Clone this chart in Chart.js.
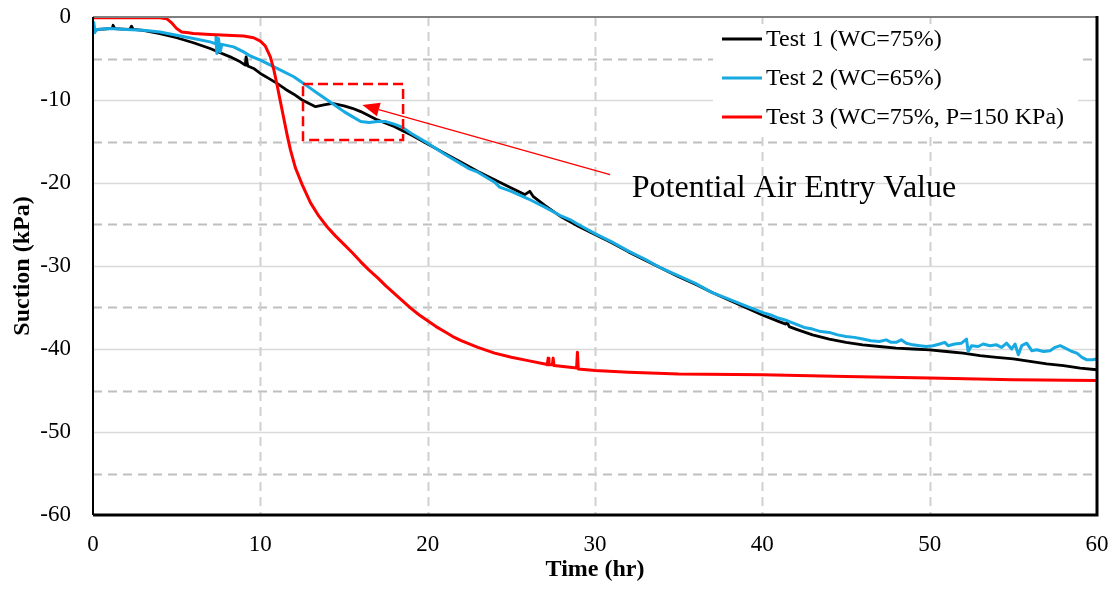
<!DOCTYPE html>
<html>
<head>
<meta charset="utf-8">
<script src="https://cdn.jsdelivr.net/npm/chart.js@4.4.1/dist/chart.umd.min.js"></script>
<style>
html,body{margin:0;padding:0;background:#fff;}
#wrap{width:1114px;height:593px;}
</style>
</head>
<body>
<div id="wrap"><canvas id="c" width="1114" height="593"></canvas></div>
<script>
// ---- Data ----
const seriesNames = ["Test 1 (WC=75%)", "Test 2 (WC=65%)", "Test 3 (WC=75%, P=150 KPa)"];
const xTicks = [0, 10, 20, 30, 40, 50, 60];
const yTicks = [-60, -50, -40, -30, -20, -10, 0];

const test1Time = [0,0.05,0.3,0.6,1.0,1.15,1.2,1.3,1.8,2.2,2.3,2.4,3.0,4.0,5.0,6.0,7.0,7.6,8.2,8.8,9.1,9.15,9.25,9.6,10.0,10.5,11.0,11.5,12.0,12.5,13.0,13.3,13.8,14.3,15.0,15.5,16.0,17.0,18.0,18.5,19.0,20.0,21.0,22.0,23.0,24.0,25.0,25.8,26.1,26.3,27.0,28.0,29.0,30.0,31.0,32.0,33.0,34.0,35.0,36.0,37.0,38.0,39.0,40.0,41.0,41.4,41.5,41.6,42.0,43.0,44.0,45.0,46.0,47.0,48.0,49.0,50.0,51.0,52.0,53.0,54.0,55.0,56.0,57.0,58.0,59.0,60.0];
const test1Suction = [-1.0,-1.7,-1.5,-1.45,-1.4,-1.4,-1.0,-1.4,-1.45,-1.5,-1.1,-1.5,-1.6,-2.0,-2.5,-3.1,-3.8,-4.3,-4.8,-5.4,-5.8,-4.8,-5.9,-6.2,-6.8,-7.4,-8.0,-8.7,-9.3,-10.0,-10.5,-10.8,-10.6,-10.4,-10.7,-11.0,-11.4,-12.4,-13.2,-13.7,-14.2,-15.3,-16.4,-17.5,-18.6,-19.6,-20.6,-21.4,-21.0,-21.6,-22.7,-24.1,-25.2,-26.2,-27.2,-28.3,-29.3,-30.3,-31.3,-32.2,-33.2,-34.1,-35.0,-35.9,-36.7,-37.0,-36.8,-37.3,-37.6,-38.3,-38.8,-39.2,-39.5,-39.7,-39.9,-40.0,-40.1,-40.3,-40.5,-40.8,-41.0,-41.2,-41.5,-41.8,-42.0,-42.3,-42.5];

const test2Time = [0,0.05,0.1,0.2,1.0,2.0,3.0,4.0,5.0,6.0,7.0,7.3,7.35,7.4,7.5,7.6,7.7,8.4,9.0,9.4,10.0,11.0,12.0,12.5,13.0,13.5,14.0,14.5,15.0,15.5,16.0,16.5,17.0,17.5,18.0,18.5,19.0,20.0,21.0,22.0,22.5,23.0,24.0,24.3,25.0,26.0,27.0,28.0,28.5,29.0,30.0,31.0,32.0,33.0,34.0,35.0,36.0,37.0,38.0,39.0,40.0,40.5,41.0,41.5,42.0,42.5,43.0,43.5,44.0,44.5,45.0,45.5,46.0,46.5,47.0,47.4,47.7,48.0,48.3,48.6,49.0,49.4,49.8,50.2,50.6,50.9,51.1,51.5,51.9,52.2,52.3,52.5,52.9,53.2,53.6,54.0,54.3,54.6,54.9,55.1,55.3,55.5,55.8,56.1,56.4,56.8,57.2,57.5,57.8,58.1,58.5,58.8,59.1,59.4,59.7,60.0];
const test2Suction = [-1.8,-0.7,-1.9,-1.5,-1.4,-1.5,-1.6,-1.8,-2.2,-2.6,-3.0,-3.2,-2.4,-4.4,-2.6,-4.2,-3.3,-3.6,-4.2,-4.7,-5.2,-6.2,-7.2,-7.9,-8.6,-9.3,-10.0,-10.7,-11.4,-12.0,-12.6,-12.7,-12.6,-12.6,-12.9,-13.3,-14.0,-15.2,-16.5,-17.7,-18.3,-18.7,-19.9,-20.5,-21.0,-21.9,-22.9,-24.0,-24.4,-25.0,-26.1,-27.1,-28.2,-29.2,-30.3,-31.2,-32.1,-33.2,-34.0,-34.8,-35.6,-35.9,-36.3,-36.6,-37.0,-37.4,-37.6,-37.9,-38.0,-38.3,-38.5,-38.6,-38.8,-39.0,-39.1,-38.9,-39.2,-39.2,-38.9,-39.3,-39.5,-39.6,-39.7,-39.6,-39.4,-39.2,-39.6,-39.4,-39.3,-38.8,-40.3,-39.6,-39.7,-39.4,-39.6,-39.5,-39.8,-39.3,-40.0,-39.4,-40.7,-39.6,-39.3,-40.2,-40.1,-40.3,-40.2,-39.8,-39.6,-39.9,-40.3,-40.5,-41.0,-41.3,-41.3,-41.2];

const test3Time = [0,0.5,1.0,2.0,3.0,4.0,4.4,4.7,5.0,5.3,5.7,6.0,7.0,8.0,9.0,9.6,10.0,10.3,10.6,10.8,11.0,11.2,11.4,11.6,11.8,12.1,12.5,13.0,13.5,14.0,14.5,15.0,15.5,16.0,16.5,17.0,17.5,18.0,18.5,19.0,19.5,20.0,20.5,21.0,21.5,22.0,23.0,24.0,25.0,26.0,27.0,27.15,27.2,27.25,27.45,27.5,27.55,28.9,28.95,29.0,30.0,32.0,35.0,40.0,45.0,50.0,55.0,60.0];
const test3Suction = [-0.1,-0.1,-0.1,-0.1,-0.1,-0.1,-0.2,-0.7,-1.4,-1.8,-1.9,-2.0,-2.1,-2.2,-2.3,-2.5,-2.9,-3.5,-4.8,-6.3,-8.2,-10.2,-12.2,-14.2,-16.0,-18.2,-20.2,-22.4,-24.0,-25.3,-26.4,-27.4,-28.4,-29.5,-30.5,-31.4,-32.4,-33.3,-34.2,-35.1,-35.9,-36.6,-37.3,-37.9,-38.5,-39.0,-39.8,-40.5,-41.0,-41.4,-41.8,-41.9,-41.1,-41.9,-41.9,-41.1,-42.0,-42.3,-40.4,-42.4,-42.6,-42.8,-43.0,-43.1,-43.3,-43.5,-43.7,-43.8];

const seriesColors = ["#000000", "#17a9e1", "#ff0000"];

// annotation (data coordinates)
const noteBox = {x0: 12.55, x1: 18.53, y0: -8.07, y1: -14.82};
const noteArrow = {fromX: 30.9, fromY: -19.0, toX: 16.1, toY: -10.6};
const noteText = {x: 32.2, y: -21.7, text: "Potential Air Entry Value"};

function pts(xs, ys){ return xs.map((x,i)=>({x:x, y:ys[i]})); }

const SERIF = "'Liberation Serif','Times New Roman',serif";

const gridPlugin = {
  id: 'customGrid',
  beforeDatasetsDraw(chart){
    const {ctx, chartArea:a, scales:{x, y}} = chart;
    ctx.save();
    for (let v = -55; v < 0; v += 5){
      const py = Math.round(y.getPixelForValue(v)) + 0.5;
      ctx.beginPath();
      if (v % 10 === 0){ ctx.setLineDash([]); ctx.strokeStyle = '#d9d9d9'; ctx.lineWidth = 1.5; }
      else { ctx.setLineDash([9,6]); ctx.strokeStyle = '#bfbfbf'; ctx.lineWidth = 2; }
      ctx.moveTo(a.left, py); ctx.lineTo(a.right, py); ctx.stroke();
    }
    for (let t = 10; t < 60; t += 10){
      const px = Math.round(x.getPixelForValue(t)) + 0.5;
      ctx.beginPath(); ctx.setLineDash([9,6]); ctx.strokeStyle = '#d0d0d0'; ctx.lineWidth = 2;
      ctx.moveTo(px, a.top); ctx.lineTo(px, a.bottom); ctx.stroke();
    }
    ctx.setLineDash([]);
    ctx.fillStyle = '#fff';
    ctx.fillRect(713, 24, 365, 110);
    ctx.restore();
  },
  afterDatasetsDraw(chart){
    const {ctx, chartArea:a, scales:{x, y}} = chart;
    ctx.save();
    ctx.strokeStyle = '#808080'; ctx.lineWidth = 2;
    ctx.beginPath(); ctx.moveTo(a.left, a.top); ctx.lineTo(a.right, a.top); ctx.stroke();
    ctx.strokeStyle = '#000';
    ctx.lineWidth = 2;
    ctx.beginPath(); ctx.moveTo(a.left, a.top); ctx.lineTo(a.left, a.bottom); ctx.stroke();
    ctx.lineWidth = 3;
    ctx.beginPath(); ctx.moveTo(a.left, a.bottom); ctx.lineTo(a.right, a.bottom); ctx.lineTo(a.right, a.top-1); ctx.stroke();

    ctx.font = "24px " + SERIF;
    ctx.textBaseline = 'middle';
    const rows = [39, 78, 117];
    seriesNames.forEach((n, i) => {
      ctx.strokeStyle = seriesColors[i]; ctx.lineWidth = 3;
      ctx.beginPath(); ctx.moveTo(722, rows[i]); ctx.lineTo(762, rows[i]); ctx.stroke();
      ctx.fillStyle = '#000';
      ctx.fillText(n, 766, rows[i] + 1);
    });

    const bx0 = x.getPixelForValue(noteBox.x0), bx1 = x.getPixelForValue(noteBox.x1);
    const by0 = y.getPixelForValue(noteBox.y0), by1 = y.getPixelForValue(noteBox.y1);
    ctx.strokeStyle = '#ff0000'; ctx.lineWidth = 2.5; ctx.setLineDash([10,5]);
    ctx.strokeRect(bx0, by0, bx1 - bx0, by1 - by0);
    ctx.setLineDash([]);
    const fx = x.getPixelForValue(noteArrow.fromX), fy = y.getPixelForValue(noteArrow.fromY);
    const tx = x.getPixelForValue(noteArrow.toX), ty = y.getPixelForValue(noteArrow.toY);
    const ang = Math.atan2(ty - fy, tx - fx);
    const hl = 17, hw = 7;
    const bxp = tx - hl * Math.cos(ang), byp = ty - hl * Math.sin(ang);
    ctx.lineWidth = 1.3;
    ctx.beginPath(); ctx.moveTo(fx, fy); ctx.lineTo(bxp, byp); ctx.stroke();
    ctx.fillStyle = '#ff0000';
    ctx.beginPath();
    ctx.moveTo(tx, ty);
    ctx.lineTo(bxp + hw * Math.sin(ang), byp - hw * Math.cos(ang));
    ctx.lineTo(bxp - hw * Math.sin(ang), byp + hw * Math.cos(ang));
    ctx.closePath(); ctx.fill();
    ctx.fillStyle = '#000';
    ctx.font = "32px " + SERIF;
    ctx.textBaseline = 'alphabetic';
    ctx.fillText(noteText.text, x.getPixelForValue(noteText.x), y.getPixelForValue(noteText.y));
    ctx.restore();
  }
};

new Chart(document.getElementById('c'), {
  type: 'scatter',
  data: {
    datasets: [
      {label: seriesNames[0], data: pts(test1Time, test1Suction), borderColor: seriesColors[0], borderWidth: 2.8, order: 2},
      {label: seriesNames[1], data: pts(test2Time, test2Suction), borderColor: seriesColors[1], borderWidth: 3, order: 1},
      {label: seriesNames[2], data: pts(test3Time, test3Suction), borderColor: seriesColors[2], borderWidth: 3, order: 0}
    ].map(d => Object.assign(d, {showLine: true, pointRadius: 0, pointHoverRadius: 0, fill: false, tension: 0, borderJoinStyle: 'round', borderCapStyle: 'round'}))
  },
  options: {
    responsive: false,
    animation: false,
    devicePixelRatio: 1,
    layout: {padding: {left: 0, right: 17, top: 17, bottom: 0}},
    plugins: {legend: {display: false}, tooltip: {enabled: false}},
    scales: {
      x: {
        type: 'linear', min: 0, max: 60,
        afterBuildTicks: s => { s.ticks = xTicks.map(v => ({value: v})); },
        afterFit: s => { s.height = 78; s.paddingLeft = 0; s.paddingRight = 0; },
        grid: {display: false, drawTicks: false},
        border: {display: false},
        ticks: {color: '#000', font: {family: SERIF, size: 23}, padding: 16, maxRotation: 0},
        title: {display: true, text: 'Time (hr)', color: '#000', font: {family: SERIF, size: 24, weight: 'bold'}, padding: {top: 0, bottom: 9}}
      },
      y: {
        type: 'linear', min: -60, max: 0,
        afterBuildTicks: s => { s.ticks = yTicks.map(v => ({value: v})); },
        afterFit: s => { s.width = 93; s.paddingTop = 0; s.paddingBottom = 0; },
        grid: {display: false, drawTicks: false},
        border: {display: false},
        ticks: {color: '#000', font: {family: SERIF, size: 23}, padding: 22},
        title: {display: true, text: 'Suction (kPa)', color: '#000', font: {family: SERIF, size: 24, weight: 'bold'}, padding: {top: 8, bottom: 0}}
      }
    }
  },
  plugins: [gridPlugin]
});
</script>
</body>
</html>
